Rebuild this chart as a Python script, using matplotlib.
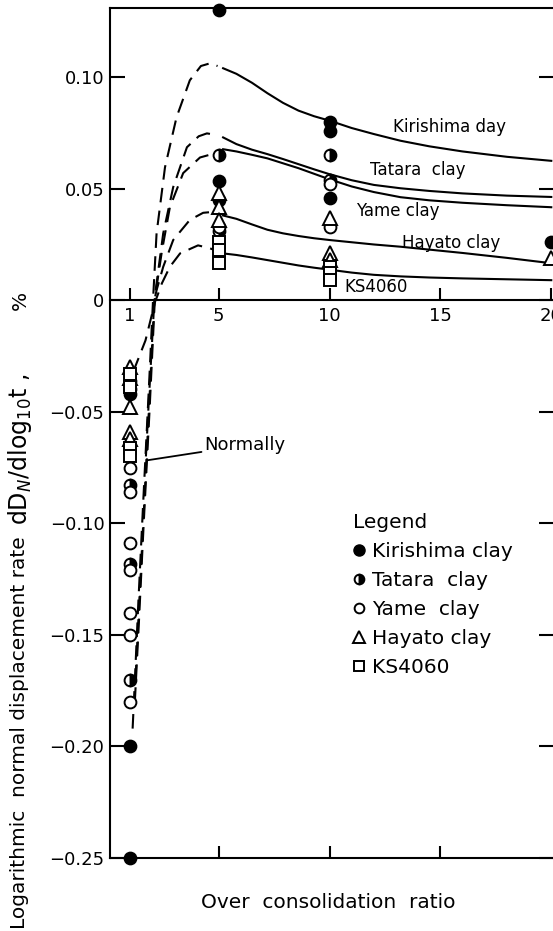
import matplotlib
matplotlib.use('Agg')
import matplotlib.pyplot as plt
from matplotlib.lines import Line2D

# measured rates at each over consolidation ratio
kir_ocr = [1, 1, 1, 1, 5, 5, 5, 10, 10, 10, 20]
kir_rate = [-0.036, -0.042, -0.200, -0.250, 0.130, 0.0535, 0.045, 0.080, 0.076, 0.046, 0.026]
tat_ocr = [1, 1, 1, 1, 5, 5, 10, 10]
tat_rate = [-0.040, -0.083, -0.118, -0.170, 0.065, 0.031, 0.065, 0.054]
yame_ocr = [1, 1, 1, 1, 1, 1, 1, 5, 10, 10]
yame_rate = [-0.075, -0.086, -0.109, -0.121, -0.140, -0.150, -0.180, 0.033, 0.052, 0.033]
hay_ocr = [1, 1, 1, 1, 1, 5, 5, 5, 10, 10, 10, 20]
hay_rate = [-0.030, -0.035, -0.048, -0.059, -0.062, 0.048, 0.042, 0.036, 0.037, 0.021, 0.018, 0.019]
ks_ocr = [1, 1, 1, 1, 5, 5, 5, 10, 10, 10]
ks_rate = [-0.033, -0.039, -0.066, -0.070, 0.026, 0.0225, 0.0166, 0.015, 0.012, 0.009]

# fitted curves: solid part (over consolidated) on a common ocr grid
fit_ocr = [5.2, 5.8, 6.5, 7.2, 7.9, 8.6, 9.3, 10, 11, 12, 13.2, 14.5, 16, 18, 20]
kir_fit = [0.1040, 0.1015, 0.0975, 0.0928, 0.0885, 0.0850, 0.0825, 0.0805, 0.0772,
           0.0745, 0.0715, 0.0690, 0.0667, 0.0643, 0.0625]
tat_fit = [0.0730, 0.0700, 0.0675, 0.0655, 0.0633, 0.0610, 0.0587, 0.0565, 0.0538,
           0.0517, 0.0502, 0.0490, 0.0479, 0.0469, 0.0463]
yame_fit = [0.0677, 0.0667, 0.0652, 0.0636, 0.0614, 0.0592, 0.0567, 0.0542, 0.0510,
            0.0485, 0.0462, 0.0448, 0.0437, 0.0426, 0.0417]
hay_fit = [0.0380, 0.0365, 0.0340, 0.0316, 0.0300, 0.0288, 0.0278, 0.0270, 0.0260,
           0.0250, 0.0240, 0.0227, 0.0212, 0.0190, 0.0166]
ks_fit = [0.0210, 0.0203, 0.0192, 0.0180, 0.0168, 0.0156, 0.0146, 0.0137, 0.0124,
          0.0114, 0.0107, 0.0102, 0.0098, 0.0094, 0.0090]

# dashed part (extrapolated towards normally consolidated)
kir_dash_ocr = [1.12, 1.2, 1.38, 1.6, 1.85, 2.04, 2.2, 2.58, 3.1, 3.7, 4.2, 4.61, 4.95]
kir_dash = [-0.192, -0.175, -0.135, -0.09, -0.04, 0.0, 0.030, 0.0596, 0.082, 0.0986, 0.105, 0.1062, 0.105]
tat_dash_ocr = [1.25, 1.42, 1.65, 1.9, 2.1, 2.2, 2.5, 2.95, 3.57, 4.1, 4.47, 4.95]
tat_dash = [-0.170, -0.135, -0.09, -0.04, 0.0, 0.0076, 0.030, 0.0507, 0.0686, 0.0735, 0.0748, 0.0740]
yame_dash_ocr = [1.22, 1.4, 1.62, 1.88, 2.12, 2.2, 2.44, 2.8, 3.4, 4.16, 4.7, 5.0]
yame_dash = [-0.180, -0.145, -0.10, -0.05, 0.0, 0.006, 0.022, 0.0417, 0.057, 0.064, 0.0655, 0.066]
hay_dash_ocr = [1.72, 1.85, 2.1, 2.2, 2.5, 2.95, 3.7, 4.3, 4.74, 5.0]
hay_dash = [-0.070, -0.045, 0.0, 0.0045, 0.015, 0.027, 0.036, 0.0392, 0.0396, 0.039]
ks_dash_ocr = [1.15, 1.7, 2.15, 2.2, 2.44, 2.8, 3.26, 4.07, 4.6, 4.95]
ks_dash = [-0.032, -0.018, 0.0, 0.001, 0.0076, 0.015, 0.021, 0.0246, 0.0233, 0.022]

yticks = [0.10, 0.05, 0, -0.05, -0.10, -0.15, -0.20, -0.25]
ytick_labels = ['0.10', '0.05', '0', '\u22120.05', '\u22120.10', '\u22120.15', '\u22120.20', '\u22120.25']
xticks = [1, 5, 10, 15, 20]

curve_labels = ['Kirishima day', 'Tatara  clay', 'Yame clay', 'Hayato clay', 'KS4060']
curve_label_pos = [(15.4, 0.0775), (14.0, 0.0583), (13.1, 0.0399), (15.5, 0.0255), (12.1, 0.0058)]

legend_labels = ['Kirishima clay', 'Tatara  clay', 'Yame  clay', 'Hayato clay', 'KS4060']

lw = 1.5
fig = plt.figure(figsize=(5.53, 9.31), dpi=100)
y0, y1 = -0.25, 0.131
ax = fig.add_axes([110 / 553, 1 - 858 / 931, 443.5 / 553, 850 / 931])
ax.set_xlim(0.1, 20.1)
ax.set_ylim(y0, y1)

for dx, dy in [(kir_dash_ocr, kir_dash), (tat_dash_ocr, tat_dash), (yame_dash_ocr, yame_dash),
               (hay_dash_ocr, hay_dash), (ks_dash_ocr, ks_dash)]:
    ax.plot(dx, dy, color='k', lw=lw, dashes=(7, 4))
for fy in [kir_fit, tat_fit, yame_fit, hay_fit, ks_fit]:
    ax.plot(fit_ocr, fy, color='k', lw=lw)

ms = 8.5
mk = dict(linestyle='none', color='k', markeredgecolor='k', markeredgewidth=1.4, clip_on=False, zorder=4)
ax.plot(kir_ocr, kir_rate, marker='o', markersize=ms, **mk)
ax.plot(tat_ocr, tat_rate, marker='o', markersize=ms, fillstyle='right', markerfacecoloralt='white', **mk)
ax.plot(yame_ocr, yame_rate, marker='o', markersize=ms, markerfacecolor='white', **mk)
ax.plot(hay_ocr, hay_rate, marker='^', markersize=ms + 1, markerfacecolor='white', **mk)
ax.plot(ks_ocr, ks_rate, marker='s', markersize=ms - 0.5, markerfacecolor='white', **mk)

for text, (tx, ty) in zip(curve_labels, curve_label_pos):
    ax.text(tx, ty, text, fontsize=12, ha='center', va='center')

ax.annotate('Normally', xy=(1.8, -0.0717), xytext=(4.35, -0.065), fontsize=13,
            ha='left', va='center',
            arrowprops=dict(arrowstyle='-', color='k', lw=1.3, shrinkA=0, shrinkB=0))

# frame: left, top and bottom, right side runs off the edge
for side in ['left', 'top', 'bottom']:
    ax.spines[side].set_linewidth(lw)
ax.spines['right'].set_visible(False)
ax.set_yticks(yticks)
ax.set_yticklabels(ytick_labels)
ax.set_xticks([5, 10, 15])
ax.tick_params(axis='x', direction='in', length=9, width=lw, labelbottom=False)
ax.tick_params(axis='y', direction='in', length=11, width=lw, right=True, labelsize=13, pad=4)

# labelled ocr axis along the zero line
sec = ax.secondary_xaxis((0 - y0) / (y1 - y0))
sec.set_alignment('bottom')
sec.set_xticks(xticks)
sec.spines['bottom'].set_linewidth(lw)
sec.tick_params(direction='in', length=9, width=lw, labelsize=13, pad=5)

handles = [
    Line2D([], [], marker='o', markersize=8, linestyle='none', color='k'),
    Line2D([], [], marker='o', markersize=7, linestyle='none', color='k', fillstyle='right',
           markerfacecoloralt='white', markeredgewidth=1.4),
    Line2D([], [], marker='o', markersize=7, linestyle='none', color='k', markerfacecolor='white',
           markeredgewidth=1.4),
    Line2D([], [], marker='^', markersize=8, linestyle='none', color='k', markerfacecolor='white',
           markeredgewidth=1.4),
    Line2D([], [], marker='s', markersize=7, linestyle='none', color='k', markerfacecolor='white',
           markeredgewidth=1.4),
]
leg = ax.legend(handles, legend_labels, title='Legend', frameon=False, fontsize=14.5,
                title_fontsize=14.5, loc='upper left', bbox_to_anchor=(0.525, 0.418),
                handlelength=0.6, handletextpad=0.35, labelspacing=0.5, borderpad=0,
                alignment='left')

fig.text(0.593, 1 - 902 / 931, 'Over  consolidation  ratio', fontsize=14.5, ha='center', va='center')
fig.text(0.036, 0.002, 'Logarithmic  normal displacement rate', fontsize=14.5,
         rotation=90, ha='center', va='bottom')
fig.text(0.036, 1 - 525 / 931, 'dD$_N$/dlog$_{10}$t ,', fontsize=17,
         rotation=90, ha='center', va='bottom')
fig.text(0.036, 1 - 300 / 931, '%', fontsize=14.5, rotation=90, ha='center', va='center')

fig.savefig('out.png', dpi=100)
